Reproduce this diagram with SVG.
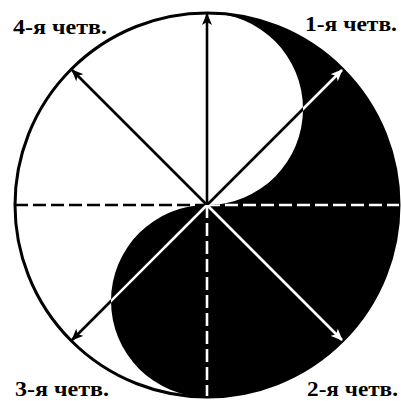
<svg xmlns="http://www.w3.org/2000/svg" width="401" height="401" viewBox="0 0 401 401">
<style>
.lbl{font-family:"Liberation Serif","Times New Roman",serif;font-weight:bold;font-size:20px;fill:#000}
.ln{stroke-width:2.6;fill:none}
.blk{stroke:#000}
.wht{stroke:#fff}
.dash{stroke-dasharray:13 5}
</style>
<defs>
<marker id="ab" viewBox="0 0 12 10" refX="11" refY="5" markerWidth="12" markerHeight="10" markerUnits="userSpaceOnUse" orient="auto">
<path d="M0,0 L12,5 L0,10 L3,5 Z" fill="#000"/>
</marker>
<marker id="aw" viewBox="0 0 12 10" refX="11" refY="5" markerWidth="12" markerHeight="10" markerUnits="userSpaceOnUse" orient="auto">
<path d="M0,0 L12,5 L0,10 L3,5 Z" fill="#fff"/>
</marker>
<clipPath id="dark">
<path d="M207,13 A192,192 0 0 1 207,397 A96,96 0 0 1 207,205 A96,96 0 0 0 207,13 Z"/>
</clipPath>
</defs>
<rect width="401" height="401" fill="#fff"/>
<g id="yinyang">
<path d="M207,13 A192,192 0 0 1 207,397 A96,96 0 0 1 207,205 A96,96 0 0 0 207,13 Z" fill="#000"/>
<circle cx="207" cy="205" r="192" fill="none" stroke="#000" stroke-width="3"/>
</g>
<g id="connectors">
<g id="black-lines">
<line class="ln blk dash" x1="15" y1="205" x2="207" y2="205"/>
<line class="ln blk" x1="207" y1="205" x2="207" y2="14" marker-end="url(#ab)"/>
<line class="ln blk" x1="207" y1="205" x2="72" y2="70" marker-end="url(#ab)"/>
<line class="ln blk" x1="207" y1="205" x2="72" y2="340" marker-end="url(#ab)"/>
<line class="ln blk" x1="207" y1="205" x2="342" y2="70" marker-end="url(#ab)"/>
</g>
<g id="white-lines" clip-path="url(#dark)">
<line class="ln wht dash" x1="207" y1="205" x2="399" y2="205"/>
<line class="ln wht dash" x1="207" y1="205" x2="207" y2="396"/>
<line class="ln wht" x1="207" y1="205" x2="72" y2="340"/>
<line class="ln wht" x1="207" y1="205" x2="342" y2="70" marker-end="url(#aw)"/>
<line class="ln wht" x1="207" y1="205" x2="342" y2="340" marker-end="url(#aw)"/>
</g>
</g>
<g id="labels">
<text class="lbl" x="13" y="34" textLength="94" lengthAdjust="spacingAndGlyphs">4-я четв.</text>
<text class="lbl" x="305" y="31" textLength="92" lengthAdjust="spacingAndGlyphs">1-я четв.</text>
<text class="lbl" x="15" y="396" textLength="94" lengthAdjust="spacingAndGlyphs">3-я четв.</text>
<text class="lbl" x="307" y="396" textLength="91" lengthAdjust="spacingAndGlyphs">2-я четв.</text>
</g>
</svg>
